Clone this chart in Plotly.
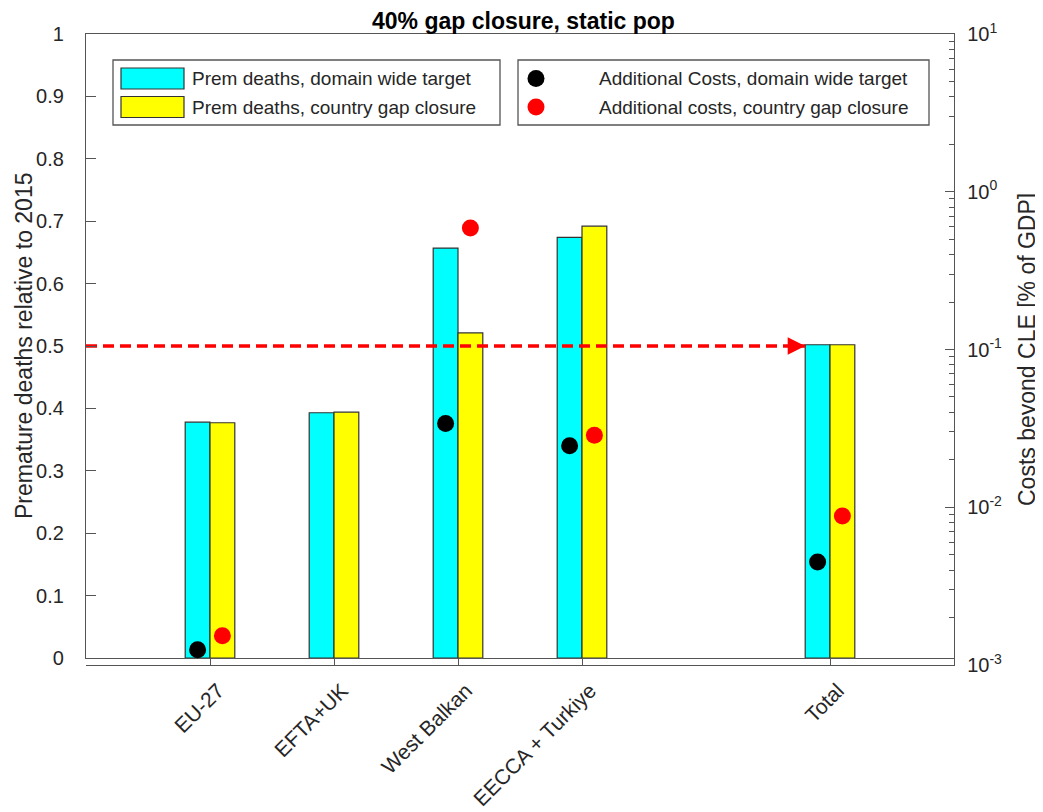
import plotly.graph_objects as go

# ---------------- data ----------------
categories = ["EU-27", "EFTA+UK", "West Balkan", "EECCA + Turkiye", "Total"]
positions = [1, 2, 3, 4, 6]
deaths_domain = [0.378, 0.393, 0.657, 0.674, 0.502]
deaths_country = [0.377, 0.394, 0.521, 0.692, 0.502]
costs_domain = [0.00125, None, 0.034, 0.0245, 0.0045]
costs_country = [0.00153, None, 0.59, 0.0286, 0.0088]
target_level = 0.5
target_end = 5.8
title_text = "40% gap closure, static pop"
left_title = "Premature deaths relative to 2015"
right_title = "Costs beyond CLE [% of GDP]"
legend_left = ["Prem deaths, domain wide target", "Prem deaths, country gap closure"]
legend_right = ["Additional Costs, domain wide target", "Additional costs, country gap closure"]
left_ticks = [0, 0.1, 0.2, 0.3, 0.4, 0.5, 0.6, 0.7, 0.8, 0.9, 1]
right_ticks = [1e-3, 1e-2, 1e-1, 1e0, 1e1]
right_ticktext = ["10<sup>-3</sup>", "10<sup>-2</sup>", "10<sup>-1</sup>", "10<sup>0</sup>", "10<sup>1</sup>"]

# ---------------- layout geometry (pixels, in window coordinates) ----------------
PAGE_OFF = 8           # default body margin of the html page
WIN_W, WIN_H = 1043, 812
W, H = WIN_W - PAGE_OFF, WIN_H - PAGE_OFF
L, R, T, B = 86, 954, 34, 665
B1 = 658  # bottom of bar axes
FONT = "Liberation Sans, Arial, Helvetica, sans-serif"
AX = "#555555"
TXT = "#262626"
CYAN = "#00FFFF"
YELLOW = "#FFFF00"
BAR_W = 0.2
DOT_OFF = 0.1


def px(xp):
    return (xp - L) / (R - L)


def py(yp):
    return (B - yp) / (B - T)


fig = go.Figure()

fig.add_trace(go.Bar(x=positions, y=deaths_domain, width=BAR_W, offset=-BAR_W,
                     marker=dict(color=CYAN, line=dict(color="#333333", width=1.2)),
                     xaxis="x", yaxis="y", name=legend_left[0], showlegend=False))
fig.add_trace(go.Bar(x=positions, y=deaths_country, width=BAR_W, offset=0,
                     marker=dict(color=YELLOW, line=dict(color="#333333", width=1.2)),
                     xaxis="x", yaxis="y", name=legend_left[1], showlegend=False))

# dashed target line
fig.add_trace(go.Scatter(x=[0, target_end], y=[target_level, target_level], mode="lines",
                         line=dict(color="#FF0000", width=3.5, dash="11px,6px"),
                         xaxis="x", yaxis="y", showlegend=False, hoverinfo="skip"))

# cost points (log right axis)
fig.add_trace(go.Scatter(x=[p - DOT_OFF for p in positions], y=costs_domain, mode="markers",
                         marker=dict(color="black", size=17), xaxis="x2", yaxis="y2",
                         name=legend_right[0], showlegend=False))
fig.add_trace(go.Scatter(x=[p + DOT_OFF for p in positions], y=costs_country, mode="markers",
                         marker=dict(color="#FF0000", size=17), xaxis="x2", yaxis="y2",
                         name=legend_right[1], showlegend=False))

minor_vals = [k * 10 ** e for e in range(-3, 1) for k in range(2, 10)]

fig.update_layout(
    width=W, height=H,
    margin=dict(l=L - PAGE_OFF, r=WIN_W - R, t=T - PAGE_OFF, b=WIN_H - B, pad=0, autoexpand=False),
    paper_bgcolor="white", plot_bgcolor="rgba(0,0,0,0)",
    barmode="overlay",
    font=dict(family=FONT, color=TXT, size=20),
    xaxis=dict(domain=[0, 1], range=[0, 7], anchor="y", showline=True, mirror=True, automargin=False,
               linecolor=AX, linewidth=1.3, showgrid=False, zeroline=False,
               showticklabels=False, ticks=""),
    yaxis=dict(domain=[py(B1), 1], range=[0, 1], anchor="x", showline=True, mirror=True, automargin=False,
               linecolor=AX, linewidth=1.3, showgrid=False, zeroline=False,
               tickvals=left_ticks, ticktext=[f"{v:g}" for v in left_ticks],
               ticks="inside", ticklen=10, tickcolor=AX, tickwidth=1.3,
               tickfont=dict(size=20, color=TXT), ticklabelstandoff=17),
    xaxis2=dict(domain=[0, 1], range=[0, 7], anchor="y2", showline=True, automargin=False,
                linecolor=AX, linewidth=1.3, showgrid=False, zeroline=False,
                tickvals=positions, ticktext=categories, tickangle=-45,
                ticks="inside", ticklen=7, tickcolor=AX, tickwidth=1.3,
                tickfont=dict(size=21, color=TXT), ticklabelstandoff=4, ticklabelshift=8),
    yaxis2=dict(domain=[0, 1], type="log", range=[-3, 1], anchor="x2", side="right", automargin=False,
                showline=True, linecolor=AX, linewidth=1.3, showgrid=False, zeroline=False,
                tickvals=right_ticks, ticktext=right_ticktext,
                ticks="inside", ticklen=9, tickcolor=AX, tickwidth=1.3,
                tickfont=dict(size=20, color=TXT), ticklabelstandoff=8,
                minor=dict(tickvals=minor_vals, ticks="inside", ticklen=5,
                           tickcolor=AX, tickwidth=1.2, showgrid=False)),
    showlegend=False,
)

# arrow head at end of target line
fig.add_annotation(x=target_end, y=target_level, xref="x", yref="y", ax=-14, ay=0,
                   axref="pixel", ayref="pixel", showarrow=True, arrowhead=2,
                   arrowsize=1.0, arrowwidth=3.5, arrowcolor="#FF0000", standoff=0, text="")

# title and axis titles
fig.add_annotation(x=px(523), y=py(21), xref="paper", yref="paper", text=f"<b>{title_text}</b>",
                   showarrow=False, font=dict(size=23, color="black"), xanchor="center", yanchor="middle")
fig.add_annotation(x=px(24), y=py(346), xref="paper", yref="paper", text=left_title, textangle=-90,
                   showarrow=False, font=dict(size=23, color=TXT), xanchor="center", yanchor="middle")
fig.add_annotation(x=px(1027), y=py(350), xref="paper", yref="paper", text=right_title, textangle=-90,
                   showarrow=False, font=dict(size=23, color=TXT), xanchor="center", yanchor="middle")

# ---- manual legends (MATLAB style) ----
shapes = []
for (x0, x1) in [(113, 500), (518, 929)]:
    shapes.append(dict(type="rect", xref="paper", yref="paper", x0=px(x0), x1=px(x1), y0=py(125), y1=py(60),
                       line=dict(color=AX, width=1.3), fillcolor="white", layer="above"))
for (yc, col) in [(78.5, CYAN), (107, YELLOW)]:
    shapes.append(dict(type="rect", xref="paper", yref="paper", x0=px(121), x1=px(184), y0=py(yc + 10.5),
                       y1=py(yc - 10.5), line=dict(color="#333333", width=1.2), fillcolor=col, layer="above"))
for (yc, col) in [(78.5, "black"), (107, "#FF0000")]:
    shapes.append(dict(type="circle", xref="paper", yref="paper", x0=px(536 - 8.5), x1=px(536 + 8.5),
                       y0=py(yc + 8.5), y1=py(yc - 8.5), line=dict(color=col, width=0), fillcolor=col, layer="above"))
fig.update_layout(shapes=shapes)
for (yc, txt) in zip([78.5, 107], legend_left):
    fig.add_annotation(x=px(190), y=py(yc), xref="paper", yref="paper", text=txt, showarrow=False,
                       xanchor="left", yanchor="middle", font=dict(size=19, color=TXT))
for (yc, txt) in zip([78.5, 107], legend_right):
    fig.add_annotation(x=px(597), y=py(yc), xref="paper", yref="paper", text=txt, showarrow=False,
                       xanchor="left", yanchor="middle", font=dict(size=19, color=TXT))

fig.write_html("out.html")
